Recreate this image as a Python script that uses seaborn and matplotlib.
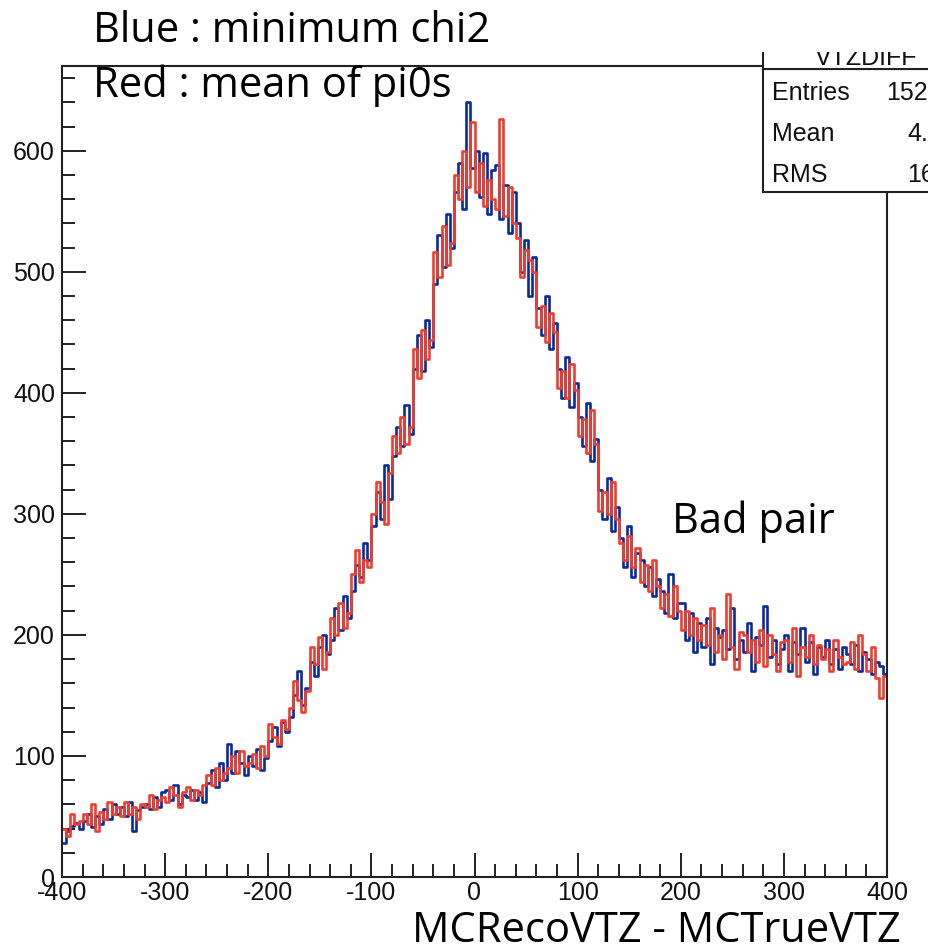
import matplotlib
matplotlib.use("Agg")
import matplotlib.pyplot as plt
from matplotlib.patches import Rectangle
from matplotlib.ticker import MultipleLocator
import numpy as np
import pandas as pd
import seaborn as sns

# 200 bins of width 4 from -400 to 400
bin_width = 4
bin_centers = np.arange(-398, 400, bin_width)

# minimum chi2 (blue)
blue_counts = [
    28, 38, 42, 45, 40, 46, 52, 41, 50, 44,
    56, 48, 60, 52, 58, 50, 62, 38, 55, 58,
    60, 56, 66, 58, 70, 72, 64, 76, 60, 68,
    66, 72, 64, 70, 62, 78, 88, 74, 94, 80,
    110, 86, 104, 94, 84, 100, 92, 106, 88, 98,
    112, 124, 108, 128, 120, 132, 150, 170, 142, 156,
    178, 166, 190, 200, 184, 196, 222, 204, 232, 214,
    236, 258, 248, 276, 262, 290, 318, 296, 340, 312,
    348, 372, 356, 390, 366, 420, 448, 418, 460, 438,
    490, 530, 504, 548, 520, 566, 590, 552, 640, 586,
    600, 562, 598, 548, 584, 588, 544, 572, 532, 566,
    540, 500, 526, 480, 512, 470, 448, 480, 436, 458,
    420, 396, 430, 388, 408, 380, 356, 392, 344, 362,
    320, 296, 330, 286, 306, 280, 256, 290, 248, 268,
    262, 240, 256, 232, 246, 236, 218, 250, 214, 226,
    226, 196, 218, 186, 210, 190, 214, 176, 206, 198,
    204, 188, 222, 180, 196, 186, 210, 170, 198, 192,
    224, 182, 196, 176, 188, 200, 170, 194, 184, 206,
    178, 194, 168, 190, 182, 196, 176, 188, 172, 190,
    184, 176, 192, 170, 186, 180, 168, 178, 174, 168,
]

# mean of pi0s (red)
red_counts = [
    40, 34, 52, 44, 46, 52, 44, 60, 38, 54,
    48, 62, 52, 58, 50, 62, 52, 58, 48, 60,
    58, 68, 56, 64, 66, 62, 74, 68, 58, 70,
    74, 64, 72, 68, 76, 84, 76, 90, 80, 86,
    90, 100, 86, 104, 92, 94, 102, 90, 108, 100,
    126, 116, 110, 130, 122, 140, 162, 146, 136, 154,
    190, 176, 198, 172, 186, 214, 200, 226, 206, 218,
    250, 270, 244, 262, 256, 300, 326, 310, 292, 334,
    364, 350, 380, 358, 372, 436, 412, 452, 428, 444,
    516, 496, 538, 506, 524, 580, 560, 600, 570, 624,
    566, 590, 554, 576, 560, 552, 626, 546, 570, 540,
    528, 496, 518, 510, 500, 454, 472, 442, 466, 450,
    404, 418, 396, 424, 402, 364, 378, 350, 386, 358,
    302, 318, 300, 326, 296, 276, 262, 282, 256, 272,
    244, 258, 236, 262, 240, 222, 234, 216, 240, 220,
    204, 220, 200, 214, 196, 208, 192, 222, 186, 200,
    180, 234, 190, 172, 202, 200, 186, 196, 178, 204,
    174, 200, 184, 170, 194, 196, 178, 206, 166, 190,
    182, 200, 176, 192, 180, 188, 170, 196, 182, 176,
    178, 194, 172, 200, 184, 170, 190, 164, 148, 166,
]

stat_names = ["Entries", "Mean", "RMS"]
stat_values = ["152584", "4.752", "163.2"]

BLUE = "#0a2b9c"
RED = "#ef3e2e"

df = pd.DataFrame({"vtz": bin_centers, "blue": blue_counts, "red": red_counts})

sns.set_style("ticks")
plt.rcParams["font.family"] = ["Liberation Sans", "DejaVu Sans"]
plt.rcParams["axes.unicode_minus"] = False

W, H = 929, 947
fig = plt.figure(figsize=(W / 100, H / 100), dpi=100)
ax = fig.add_axes([62 / W, 1 - 877 / H, 825 / W, 811 / H])

sns.histplot(data=df, x="vtz", weights="blue", binwidth=bin_width, binrange=(-400, 400),
             element="step", fill=False, color=BLUE, linewidth=1.9, ax=ax)
sns.histplot(data=df, x="vtz", weights="red", binwidth=bin_width, binrange=(-400, 400),
             element="step", fill=False, color=RED, linewidth=1.9, ax=ax)

ax.set_xlim(-400, 400)
ax.set_ylim(0, 670)
ax.set_xlabel("")
ax.set_ylabel("")
ax.xaxis.set_major_locator(MultipleLocator(100))
ax.xaxis.set_minor_locator(MultipleLocator(20))
ax.yaxis.set_major_locator(MultipleLocator(100))
ax.yaxis.set_minor_locator(MultipleLocator(20))
ax.tick_params(which="both", direction="in", width=1.4, color="#222222",
               labelsize=18, labelcolor="#111111", top=False, right=False)
ax.tick_params(which="major", length=17)
ax.tick_params(which="minor", length=9.5)
ax.tick_params(axis="x", pad=3)
ax.tick_params(axis="y", pad=5)
for s in ax.spines.values():
    s.set_linewidth(1.5)
    s.set_color("#222222")


def fx(px):
    return px / W


def fy(py):
    return 1 - py / H


# stats box (runs off the right edge of the picture)
fig.add_artist(Rectangle((fx(763), fy(192)), fx(300), (192 - 69) / H,
                         transform=fig.transFigure, facecolor="white",
                         edgecolor="#222222", linewidth=1.5, zorder=5))
fig.add_artist(Rectangle((fx(763), fy(69)), fx(300), (69 - 20) / H,
                         transform=fig.transFigure, facecolor="white",
                         edgecolor="#222222", linewidth=1.5, zorder=5))
fig.text(fx(866), fy(58), "VTZDIFF", fontsize=18, color="#111111",
         ha="center", va="center", zorder=5)
for i, (name, val) in enumerate(zip(stat_names, stat_values)):
    y = fy(93 + 41 * i)
    fig.text(fx(772), y, name, fontsize=18, color="#111111", ha="left", va="center", zorder=6)
    fig.text(fx(970), y, val, fontsize=18, color="#111111", ha="right", va="center", zorder=6)

# slide text box covering the top of the stats title
fig.add_artist(Rectangle((0, fy(52)), 1, 52 / H, transform=fig.transFigure,
                         facecolor="white", edgecolor="none", zorder=7))

slide_font = ["Open Sans", "DejaVu Sans"]
fig.text(fx(93), fy(42), "Blue : minimum chi2", fontsize=30, family=slide_font,
         color="black", va="baseline", zorder=8)
fig.text(fx(93), fy(97), "Red : mean of pi0s", fontsize=30, family=slide_font,
         color="black", va="baseline", zorder=8)
fig.text(fx(672), fy(533), "Bad pair", fontsize=30, family=slide_font,
         color="black", va="baseline", zorder=8)
fig.text(fx(412), fy(942), "MCRecoVTZ - MCTrueVTZ", fontsize=30, family=slide_font,
         color="black", va="baseline", zorder=8)

fig.savefig("out.png", dpi=100)
